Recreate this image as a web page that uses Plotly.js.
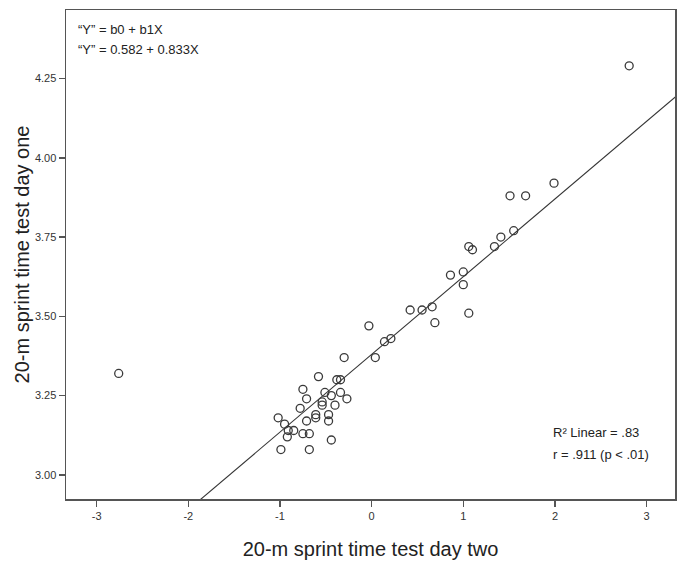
<!DOCTYPE html>
<html>
<head>
<meta charset="utf-8">
<script src="https://cdn.plot.ly/plotly-3.0.1.min.js"></script>
<style>html,body{margin:0;padding:0;background:#fff;}#chart{width:677px;height:568px;}</style>
</head>
<body>
<div id="chart"></div>
<script>
// Day two (x) and day one (y) sprint times
const dayTwo = [-2.76, -0.03, 0.69, -0.30, 0.04, 0.14, 0.21, -0.58, -0.38, -0.34,
  -0.75, -0.51, -0.44, -0.34, -0.71, -0.27, -0.54, -0.54, -0.40, -0.78,
  -1.02, -0.61, -0.61, -0.47, -0.47, -0.71, -0.95, -0.91, -0.85, -0.92,
  -0.75, -0.68, -0.44, -0.99, -0.68, 1.41, 1.55, 1.06, 1.10, 1.34,
  0.86, 1.00, 1.00, 0.42, 0.55, 0.66, 1.06, 2.81, 1.99, 1.51, 1.68];
const dayOne = [3.32, 3.47, 3.48, 3.37, 3.37, 3.42, 3.43, 3.31, 3.30, 3.30,
  3.27, 3.26, 3.25, 3.26, 3.24, 3.24, 3.23, 3.22, 3.22, 3.21,
  3.18, 3.19, 3.18, 3.19, 3.17, 3.17, 3.16, 3.14, 3.14, 3.12,
  3.13, 3.13, 3.11, 3.08, 3.08, 3.75, 3.77, 3.72, 3.71, 3.72,
  3.63, 3.64, 3.60, 3.52, 3.52, 3.53, 3.51, 4.29, 3.92, 3.88, 3.88];
// Fitted line as drawn on the plot
const fitIntercept = [3.38];
const fitSlope = [0.245];
const fitXEnds = [-3.4, 3.4];
const xTicks = [-3, -2, -1, 0, 1, 2, 3];
const yTicks = [3.00, 3.25, 3.50, 3.75, 4.00, 4.25];
const eqLines = ['\u201cY\u201d = b0 + b1X', '\u201cY\u201d = 0.582 + 0.833X'];
const statLines = ['R\u00b2 Linear = .83', 'r = .911 (p < .01)'];

const fitY = fitXEnds.map(x => fitIntercept[0] + fitSlope[0] * x);
const font = 'Liberation Sans, Arial, sans-serif';

const traces = [
  {x: fitXEnds, y: fitY, mode: 'lines', type: 'scatter',
   line: {color: '#333', width: 1.1}, hoverinfo: 'skip', showlegend: false},
  {x: dayTwo, y: dayOne, mode: 'markers', type: 'scatter',
   marker: {symbol: 'circle-open', size: 8, color: '#3a3a3a', line: {width: 1.3, color: '#3a3a3a'}},
   showlegend: false}
];

const axisCommon = {
  showgrid: false, zeroline: false, showline: true, mirror: true,
  linecolor: '#555', linewidth: 1.5, ticks: 'outside', ticklen: 6,
  tickcolor: '#555', tickwidth: 1.5,
  tickfont: {family: font, size: 11, color: '#333'}
};

const layout = {
  width: 677, height: 568,
  margin: {l: 66, r: 2, t: 10, b: 69},
  paper_bgcolor: '#fff', plot_bgcolor: '#fff',
  font: {family: font, color: '#222'},
  xaxis: Object.assign({}, axisCommon, {
    range: [-3.335, 3.31], tickvals: xTicks, ticktext: xTicks.map(String),
    title: {text: '20-m sprint time test day two', font: {family: font, size: 20, color: '#222'}, standoff: 21}
  }),
  yaxis: Object.assign({}, axisCommon, {
    range: [2.924, 4.466], tickvals: yTicks, ticktext: yTicks.map(v => v.toFixed(2)),
    title: {text: '20-m sprint time test day one', font: {family: font, size: 20, color: '#222'}, standoff: 0}
  }),
  annotations: [
    {xref: 'paper', yref: 'paper', x: 0.016, y: 0.961, xanchor: 'left', yanchor: 'middle',
     text: eqLines[0], showarrow: false, font: {family: font, size: 13, color: '#222'}},
    {xref: 'paper', yref: 'paper', x: 0.016, y: 0.920, xanchor: 'left', yanchor: 'middle',
     text: eqLines[1], showarrow: false, font: {family: font, size: 13, color: '#222'}},
    {xref: 'paper', yref: 'paper', x: 0.797, y: 0.135, xanchor: 'left', yanchor: 'middle',
     text: statLines[0], showarrow: false, font: {family: font, size: 13, color: '#222'}},
    {xref: 'paper', yref: 'paper', x: 0.797, y: 0.090, xanchor: 'left', yanchor: 'middle',
     text: statLines[1], showarrow: false, font: {family: font, size: 13, color: '#222'}}
  ]
};

Plotly.newPlot('chart', traces, layout, {displayModeBar: false, staticPlot: true});
</script>
</body>
</html>
